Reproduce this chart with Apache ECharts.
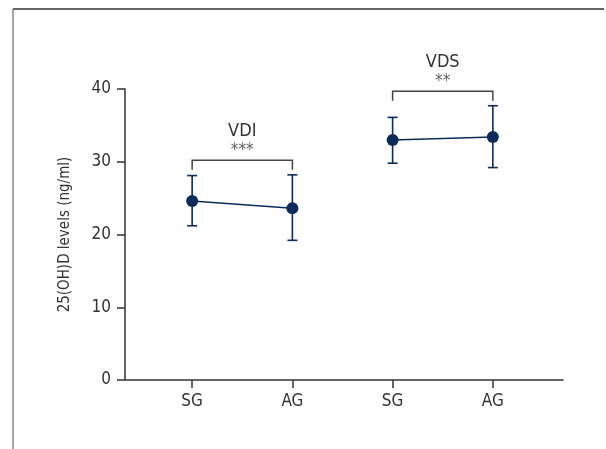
<!DOCTYPE html>
<html>
<head>
<meta charset="utf-8">
<script src="https://cdn.jsdelivr.net/npm/echarts@6/dist/echarts.min.js"></script>
<style>html,body{margin:0;padding:0;background:#fff}#c{width:606px;height:449px}</style>
</head>
<body>
<div id="c"></div>
<script>
var categories = ['SG', 'AG', 'SG', 'AG'];
var positions = [1, 2, 3, 4];
var groupVDI = { x: [1, 2], mean: [24.6, 23.6], upper: [28.1, 28.2], lower: [21.2, 19.2] };
var groupVDS = { x: [3, 4], mean: [33.0, 33.4], upper: [36.1, 37.7], lower: [29.8, 29.2] };
var brackets = [
  { x1: 1, x2: 2, top: 30.2, foot: 28.9, name: 'VDI', stars: '***' },
  { x1: 3, x2: 4, top: 39.7, foot: 38.4, name: 'VDS', stars: '**' }
];
var yTicks = [0, 10, 20, 30, 40];

var FONT = "'DejaVu Sans Condensed','Liberation Sans Narrow','Noto Sans',sans-serif";
var NAVY = '#0a2c5c';
var AX = '#333333';

function pts(g) { return g.x.map(function (x, i) { return [x, g.mean[i]]; }); }
function errs(g) { return g.x.map(function (x, i) { return [x, g.lower[i], g.upper[i]]; }); }

var errData = errs(groupVDI).concat(errs(groupVDS));

var chart = echarts.init(document.getElementById('c'), null, { renderer: 'canvas' });
chart.setOption({
  animation: false,
  backgroundColor: '#fff',
  grid: { left: 125, right: 43, top: 89, bottom: 69, containLabel: false },
  xAxis: {
    type: 'value', min: 0.33, max: 4.7,
    splitLine: { show: false },
    axisLine: { lineStyle: { color: AX, width: 1.5 } },
    axisTick: { customValues: positions, length: 8, lineStyle: { color: AX, width: 1.5 } },
    axisLabel: {
      customValues: positions,
      formatter: function (v) { return categories[positions.indexOf(Math.round(v))] || ''; },
      color: AX, fontFamily: FONT, fontSize: 17, margin: 13
    }
  },
  yAxis: {
    type: 'value', min: 0, max: 40, interval: 10,
    name: '25(OH)D levels (ng/ml)', nameLocation: 'middle', nameGap: 52,
    nameTextStyle: { color: AX, fontFamily: FONT, fontSize: 15 },
    splitLine: { show: false },
    axisLine: { show: true, lineStyle: { color: AX, width: 1.5 } },
    axisTick: { show: true, inside: false, length: 8, lineStyle: { color: AX, width: 1.5 } },
    axisLabel: { color: AX, fontFamily: FONT, fontSize: 17, margin: 14,
      formatter: function (v) { return yTicks.indexOf(v) >= 0 ? String(v) : ''; } }
  },
  graphic: [
    { type: 'line', shape: { x1: 13, y1: 9, x2: 604, y2: 9 }, style: { stroke: '#333', lineWidth: 1.5 } },
    { type: 'line', shape: { x1: 13, y1: 9, x2: 13, y2: 449 }, style: { stroke: '#888', lineWidth: 1.5 } }
  ],
  series: [
    {
      type: 'custom', name: 'err', data: errData, z: 3,
      renderItem: function (params, api) {
        var lo = api.coord([api.value(0), api.value(1)]);
        var hi = api.coord([api.value(0), api.value(2)]);
        var hw = 5;
        var st = { stroke: NAVY, lineWidth: 1.6 };
        return { type: 'group', children: [
          { type: 'line', shape: { x1: lo[0], y1: lo[1], x2: hi[0], y2: hi[1] }, style: st },
          { type: 'line', shape: { x1: lo[0] - hw, y1: lo[1], x2: lo[0] + hw, y2: lo[1] }, style: st },
          { type: 'line', shape: { x1: hi[0] - hw, y1: hi[1], x2: hi[0] + hw, y2: hi[1] }, style: st }
        ] };
      }
    },
    {
      type: 'line', data: pts(groupVDI), symbol: 'circle', symbolSize: 12, z: 4,
      lineStyle: { color: NAVY, width: 1.5 }, itemStyle: { color: NAVY }
    },
    {
      type: 'line', data: pts(groupVDS), symbol: 'circle', symbolSize: 12, z: 4,
      lineStyle: { color: NAVY, width: 1.5 }, itemStyle: { color: NAVY }
    },
    {
      type: 'custom', name: 'brackets', z: 2,
      data: brackets.map(function (b) { return [b.x1, b.x2, b.top, b.foot]; }),
      renderItem: function (params, api) {
        var b = brackets[params.dataIndex];
        var a = api.coord([api.value(0), api.value(2)]);
        var c = api.coord([api.value(1), api.value(2)]);
        var fa = api.coord([api.value(0), api.value(3)]);
        var fc = api.coord([api.value(1), api.value(3)]);
        var st = { stroke: '#444', lineWidth: 1.5, fill: null };
        var mid = (a[0] + c[0]) / 2;
        return { type: 'group', children: [
          { type: 'polyline', shape: { points: [fa, a, c, fc] }, style: st },
          { type: 'text', x: mid, y: a[1] - 10, style: { text: b.stars, fill: '#666', font: '17px ' + FONT, align: 'center', verticalAlign: 'middle' } },
          { type: 'text', x: mid, y: a[1] - 29, style: { text: b.name, fill: AX, font: '18px ' + FONT, align: 'center', verticalAlign: 'middle' } }
        ] };
      }
    }
  ]
});
</script>
</body>
</html>
